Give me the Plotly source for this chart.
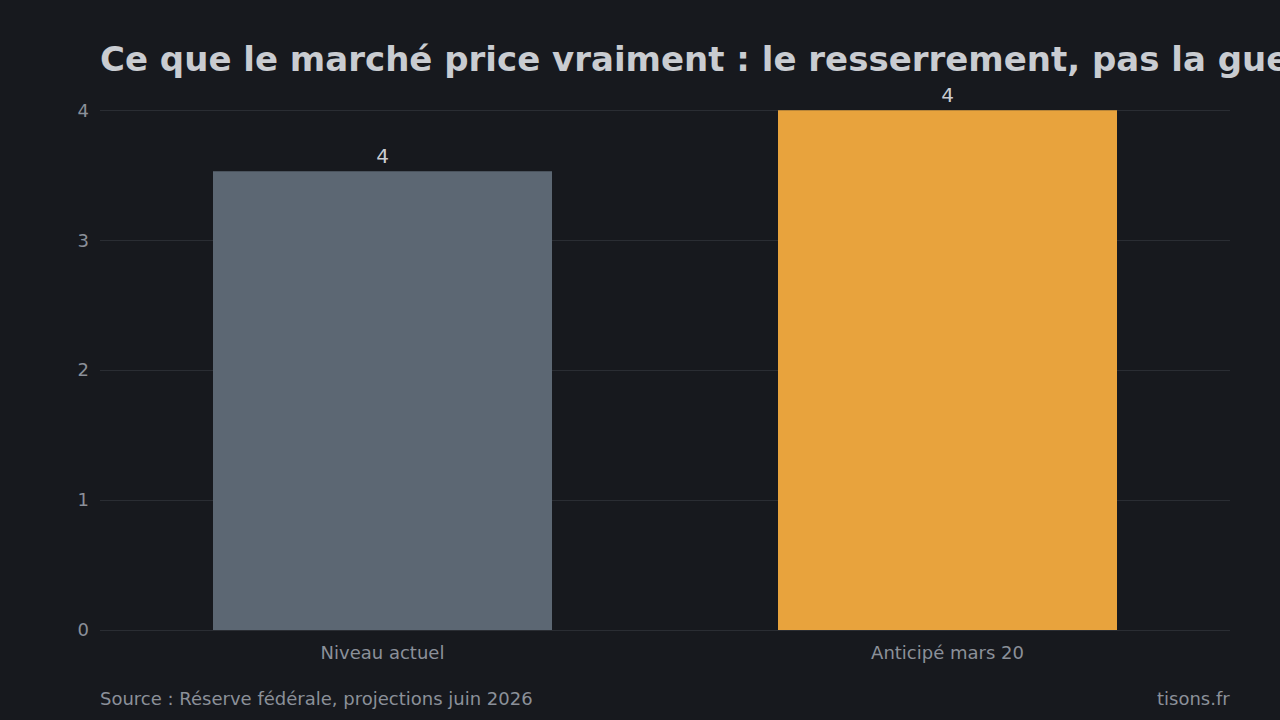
import plotly.graph_objects as go

categories = ["Niveau actuel", "Anticipé mars 20"]
values = [3.53, 4.0]
colors = ["#5c6773", "#e8a33d"]
y_ticks = [0, 1, 2, 3, 4]

title_text = "Ce que le marché price vraiment : le resserrement, pas la guerre"
source_text = "Source : Réserve fédérale, projections juin 2026"
brand_text = "tisons.fr"

BG = "#17191e"
FONT = "DejaVu Sans"

fig = go.Figure()
fig.add_trace(go.Bar(
    x=categories,
    y=values,
    marker=dict(color=colors, line=dict(width=0)),
    text=values,
    texttemplate="%{y:.0f}",
    textposition="outside",
    textfont=dict(family=FONT, size=20, color="#c9ccd1"),
    cliponaxis=False,
    hoverinfo="skip",
))

fig.update_layout(
    width=1280, height=720,
    paper_bgcolor=BG, plot_bgcolor=BG,
    margin=dict(l=100, r=50, t=109, b=90),
    bargap=0.4,
    showlegend=False,
    font=dict(family=FONT, color="#8b9099", size=18),
    title=dict(
        text="<b>" + title_text + "</b>",
        x=100 / 1280, xanchor="left", xref="container",
        y=1 - 59 / 720, yanchor="middle", yref="container",
        font=dict(family=FONT, size=34, color="#c9ccd1"),
    ),
    xaxis=dict(
        showgrid=False, zeroline=False, showline=False,
        tickfont=dict(family=FONT, size=18, color="#8b9099"),
        ticks="", ticklen=0, ticklabelstandoff=10,
    ),
    yaxis=dict(
        range=[0, 4.01], tickvals=y_ticks,
        showgrid=True, gridcolor="#2a2d33", gridwidth=1,
        zeroline=True, zerolinecolor="#2a2d33", zerolinewidth=1,
        showline=False,
        tickfont=dict(family=FONT, size=18, color="#8b9099"),
        ticks="", ticklabelstandoff=10,
    ),
    annotations=[
        dict(text=source_text, xref="paper", yref="paper",
             x=0, y=-68 / 521, xanchor="left", yanchor="middle", xshift=-2,
             showarrow=False, font=dict(family=FONT, size=18, color="#8b9099")),
        dict(text=brand_text, xref="paper", yref="paper",
             x=1, y=-68 / 521, xanchor="right", yanchor="middle", xshift=2,
             showarrow=False, font=dict(family=FONT, size=18, color="#8b9099")),
    ],
)

fig.write_html("out.html")
